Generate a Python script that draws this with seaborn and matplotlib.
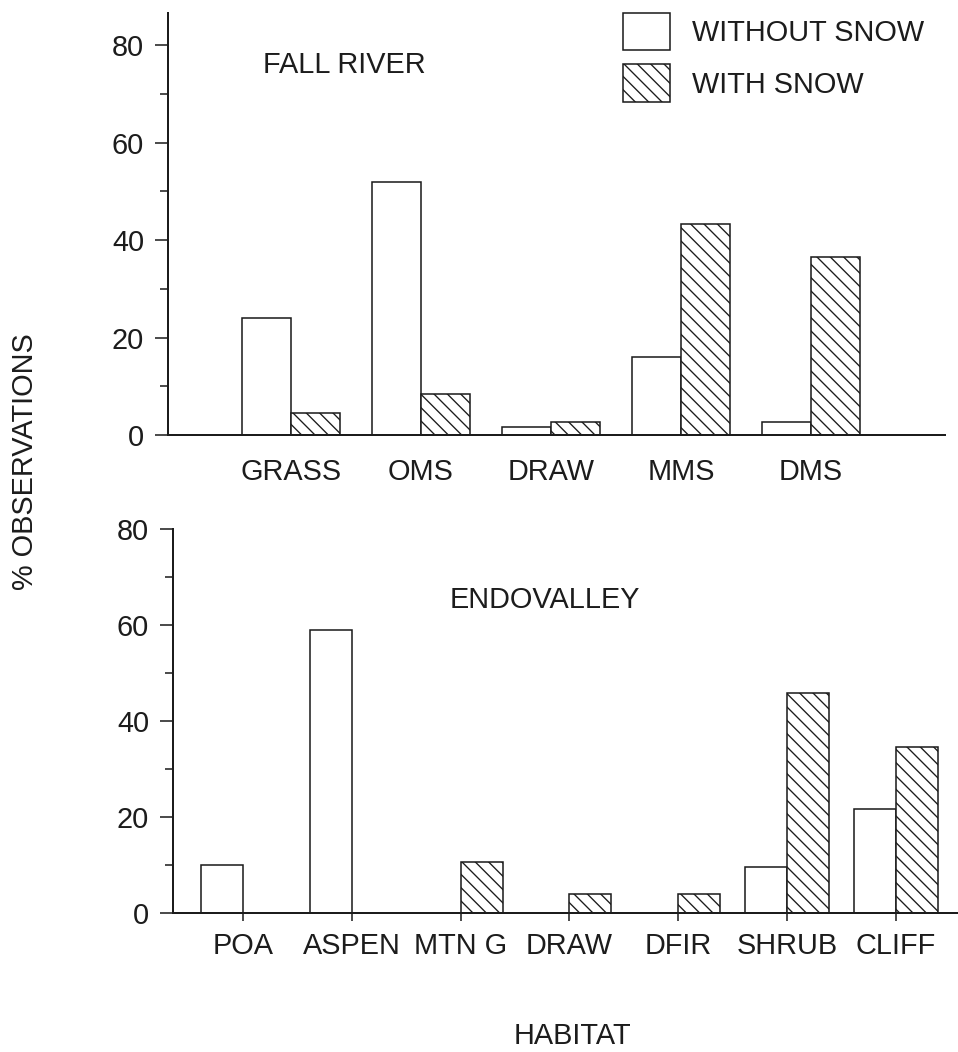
import matplotlib
matplotlib.use("Agg")
import matplotlib.pyplot as plt
import matplotlib.patches as mpatches
from matplotlib.ticker import MultipleLocator
import seaborn as sns
import pandas as pd

# ---- data ----
fall_habitats = ["GRASS", "OMS", "DRAW", "MMS", "DMS"]
fall_without = [24, 52, 1.6, 16, 2.7]
fall_with = [4.5, 8.5, 2.7, 43.3, 36.5]

endo_habitats = ["POA", "ASPEN", "MTN G", "DRAW", "DFIR", "SHRUB", "CLIFF"]
endo_without = [10, 59, 0, 0, 0, 9.6, 21.7]
endo_with = [0, 0, 10.6, 4, 4, 45.8, 34.6]

series_labels = ["WITHOUT SNOW", "WITH SNOW"]
y_ticks = [0, 20, 40, 60, 80]

# ---- style ----
DPI = 80
W, H = 958, 1052
INK = "#1c1c1c"
FS = 26
HATCH = "\\\\"

sns.set_theme(style="ticks")
plt.rcParams["font.family"] = ["Liberation Sans", "DejaVu Sans"]
plt.rcParams["hatch.linewidth"] = 1.2
plt.rcParams["hatch.color"] = INK
plt.rcParams["text.color"] = INK


def make_df(habitats, without, with_):
    rows = []
    for h, a, b in zip(habitats, without, with_):
        rows.append({"habitat": h, "snow": series_labels[0], "pct": a})
        rows.append({"habitat": h, "snow": series_labels[1], "pct": b})
    return pd.DataFrame(rows)


fig = plt.figure(figsize=(W / DPI, H / DPI), dpi=DPI)
fig.patch.set_facecolor("white")
ax1 = fig.add_axes([168 / W, 1 - 435 / H, 777 / W, 422 / H])
ax2 = fig.add_axes([173 / W, 1 - 913 / H, 785 / W, 384 / H])


def draw(ax, habitats, without, with_, width):
    df = make_df(habitats, without, with_)
    sns.barplot(data=df, x="habitat", y="pct", hue="snow", order=habitats,
                hue_order=series_labels, ax=ax, width=width, legend=False,
                palette=["white", "white"], saturation=1, edgecolor=INK,
                linewidth=1.4, errorbar=None)
    for i, cont in enumerate(ax.containers):
        for p in cont:
            p.set_facecolor("white")
            p.set_edgecolor(INK)
            if i == 1:
                p.set_hatch(HATCH)
    ax.set_facecolor("white")
    ax.set_xlabel("")
    ax.set_ylabel("")
    ax.set_yticks(y_ticks)
    ax.set_yticklabels([str(t) for t in y_ticks])
    ax.yaxis.set_minor_locator(MultipleLocator(10))
    for s in ["top", "right"]:
        ax.spines[s].set_visible(False)
    for s in ["left", "bottom"]:
        ax.spines[s].set_linewidth(1.8)
        ax.spines[s].set_color(INK)
    ax.tick_params(axis="y", which="major", length=11.5, width=1.4,
                   color=INK, labelsize=FS, pad=10, labelcolor=INK)
    ax.tick_params(axis="y", which="minor", length=7, width=1.4, color=INK)
    ax.tick_params(axis="x", labelsize=FS, labelcolor=INK)


draw(ax1, fall_habitats, fall_without, fall_with, 0.755)
ax1.set_xlim(-0.946, 5.03)
ax1.set_ylim(0, 86.6)
ax1.tick_params(axis="x", length=0, pad=21)

draw(ax2, endo_habitats, endo_without, endo_with, 0.77)
ax2.set_xlim(-0.643, 6.57)
ax2.set_ylim(0, 80)
ax2.tick_params(axis="x", length=7, width=1.4, color=INK, pad=10)

# panel titles
fig.text(344 / W, 1 - 65 / H, "FALL RIVER", ha="center", va="center", fontsize=FS)
fig.text(545 / W, 1 - 600 / H, "ENDOVALLEY", ha="center", va="center", fontsize=FS)

# shared axis labels
fig.text(25 / W, 1 - 462 / H, "% OBSERVATIONS", rotation=90, ha="center",
         va="center", fontsize=FS)
fig.text(572 / W, 1 - 1036 / H, "HABITAT", ha="center", va="center", fontsize=FS)

# legend
handles = [
    mpatches.Patch(facecolor="white", edgecolor=INK, linewidth=1.4, label=series_labels[0]),
    mpatches.Patch(facecolor="white", edgecolor=INK, linewidth=1.4, hatch=HATCH, label=series_labels[1]),
]
fig.legend(handles=handles, loc="upper left", bbox_to_anchor=(623 / W, 1 - 13 / H),
           frameon=False, borderpad=0, borderaxespad=0, handlelength=1.62,
           handleheight=1.62, labelspacing=0.48, handletextpad=0.76, fontsize=FS)

fig.savefig("out.png", dpi=DPI, facecolor="white")
